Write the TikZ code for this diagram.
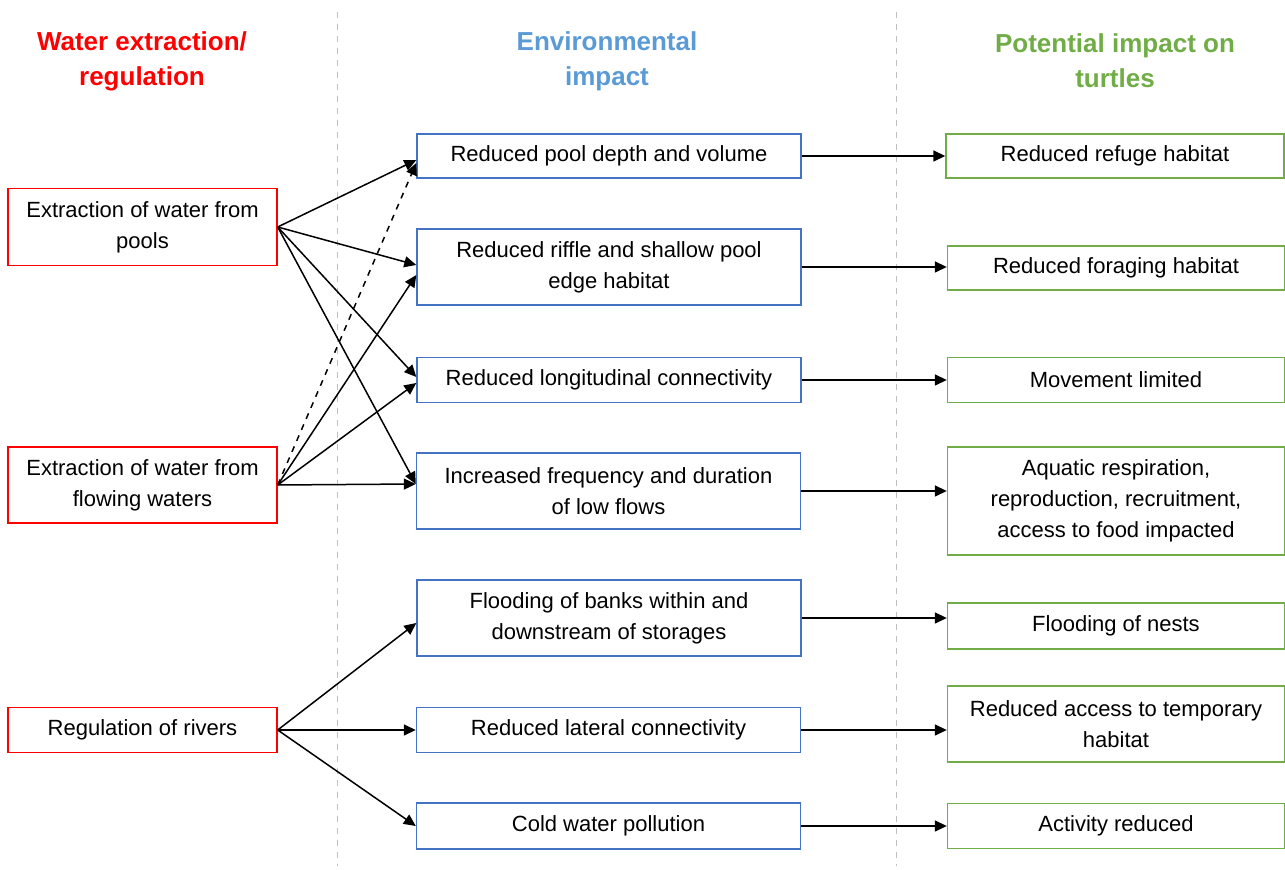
\documentclass[tikz,border=0pt]{standalone}
\usepackage{fontspec}
\setmainfont{Liberation Sans}
\usepackage{xcolor}
\usetikzlibrary{arrows.meta,calc}

\definecolor{srcred}{RGB}{255,0,0}
\definecolor{envblue}{RGB}{68,114,196}
\definecolor{envhead}{RGB}{91,155,213}
\definecolor{turtlegreen}{RGB}{112,173,71}

\begin{document}
\begin{tikzpicture}[x=0.5pt, y=-0.5pt,
  box/.style={draw, fill=white, line width=0.7pt, inner sep=0pt, align=center, font=\fontsize{11}{15.5}\selectfont},
  src/.style={box, draw=srcred, minimum width=134.5pt},
  env/.style={box, draw=envblue, minimum width=192pt},
  imp/.style={box, draw=turtlegreen, minimum width=168.5pt},
  head/.style={align=center, font=\fontsize{13}{17.5}\selectfont\bfseries},
  arrow/.style={-{Triangle[length=6pt,width=5.5pt]}, line width=0.75pt},
  guide/.style={draw=black!25, dashed, line width=0.5pt}]
  \useasboundingbox (0,0) rectangle (1285,870);

  % column guides and headings
  \draw[guide] (337,12) -- (337,866);
  \draw[guide] (896,12) -- (896,866);
  \node[head, text=srcred] (hsrc) at (142,61) {Water extraction/\\regulation};
  \node[head, text=envhead] (henv) at (607,61) {Environmental\\impact};
  \node[head, text=turtlegreen] (himp) at (1115,61) {Potential impact on\\turtles};

  % water extraction / regulation
  \node[src, minimum height=38.5pt] (pools) at (142.5,227) {Extraction of water from\\pools};
  \node[src, minimum height=38pt] (flowing) at (142.5,485) {Extraction of water from\\flowing waters};
  \node[src, minimum height=22.5pt] (rivers) at (142.5,730) {Regulation of rivers};

  % environmental impact
  \node[env, minimum height=22pt] (depth) at (609,156) {Reduced pool depth and volume};
  \node[env, minimum height=38pt] (riffle) at (609,267) {Reduced riffle and shallow pool\\edge habitat};
  \node[env, minimum height=22.5pt] (longit) at (609,380) {Reduced longitudinal connectivity};
  \node[env, minimum height=38pt] (lowflow) at (608.5,491) {Increased frequency and duration\\of low flows};
  \node[env, minimum height=38pt] (banks) at (609,618) {Flooding of banks within and\\downstream of storages};
  \node[env, minimum height=22.5pt] (lateral) at (608.5,730) {Reduced lateral connectivity};
  \node[env, minimum height=23pt] (cold) at (608.5,826) {Cold water pollution};

  % potential impact on turtles
  \node[imp, minimum height=22pt, minimum width=169pt] (refuge) at (1115,156) {Reduced refuge habitat};
  \node[imp, minimum height=22pt] (forage) at (1116,268) {Reduced foraging habitat};
  \node[imp, minimum height=22.5pt] (move) at (1116,380) {Movement limited};
  \node[imp, minimum height=54pt] (resp) at (1116,501) {Aquatic respiration,\\reproduction, recruitment,\\access to food impacted};
  \node[imp, minimum height=23pt] (nests) at (1116,626) {Flooding of nests};
  \node[imp, minimum height=38pt] (temp) at (1116,724) {Reduced access to temporary\\habitat};
  \node[imp, minimum height=22.5pt] (activity) at (1116,826) {Activity reduced};

  % left to middle
  \draw[arrow] (pools.east) -- ($(depth.west)+(0,4)$);
  \draw[arrow] (pools.east) -- ($(riffle.west)+(0,-2)$);
  \draw[arrow] (pools.east) -- ($(longit.west)+(0,-3)$);
  \draw[arrow] (pools.east) -- ($(lowflow.west)+(0,-7)$);
  \draw[arrow, dashed] (flowing.east) -- ($(depth.west)+(0,7)$);
  \draw[arrow] (flowing.east) -- ($(riffle.west)+(0,8)$);
  \draw[arrow] (flowing.east) -- ($(longit.west)+(0,3)$);
  \draw[arrow] (flowing.east) -- ($(lowflow.west)+(0,-7)$);
  \draw[arrow] (rivers.east) -- ($(banks.west)+(0,5)$);
  \draw[arrow] (rivers.east) -- (lateral.west);
  \draw[arrow] (rivers.east) -- (cold.west);

  % middle to right
  \draw[arrow] (depth.east) -- (depth.east -| refuge.west);
  \draw[arrow] (riffle.east) -- (riffle.east -| forage.west);
  \draw[arrow] (longit.east) -- (longit.east -| move.west);
  \draw[arrow] (lowflow.east) -- (lowflow.east -| resp.west);
  \draw[arrow] (banks.east) -- (banks.east -| nests.west);
  \draw[arrow] (lateral.east) -- (lateral.east -| temp.west);
  \draw[arrow] (cold.east) -- (cold.east -| activity.west);
\end{tikzpicture}
\end{document}
